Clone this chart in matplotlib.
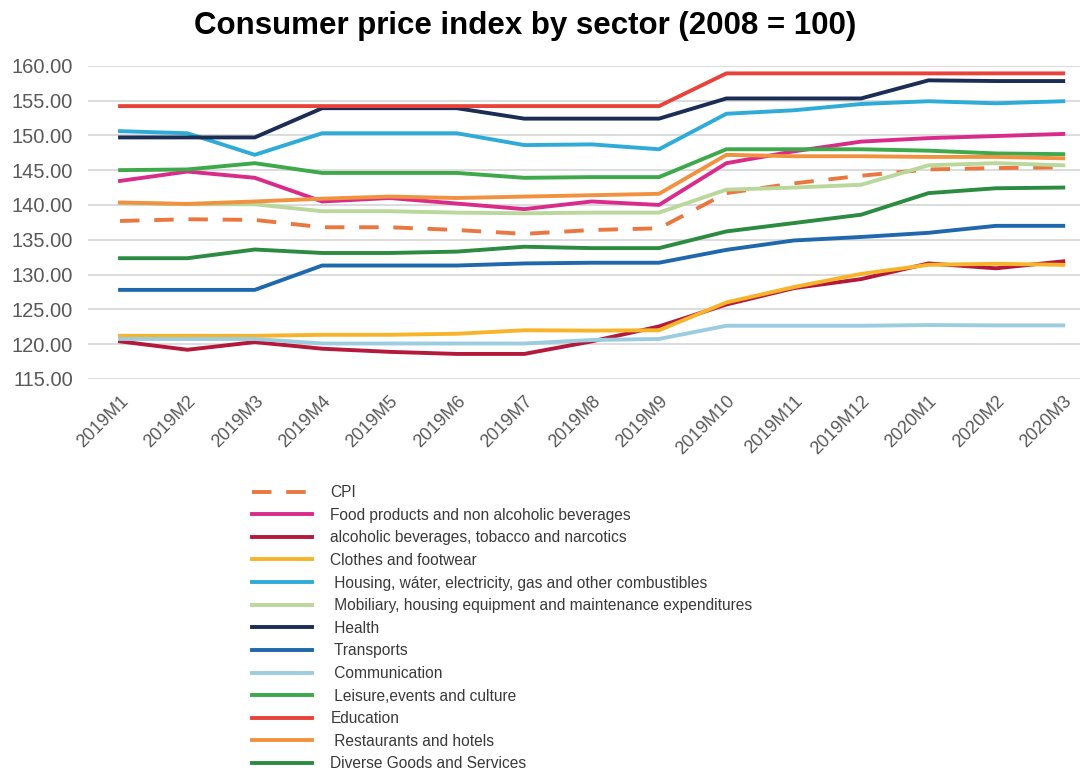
import numpy as np
import matplotlib.pyplot as plt

plt.rcParams["font.family"] = ["Liberation Sans", "DejaVu Sans"]

months = ["2019M1", "2019M2", "2019M3", "2019M4", "2019M5", "2019M6", "2019M7",
          "2019M8", "2019M9", "2019M10", "2019M11", "2019M12", "2020M1",
          "2020M2", "2020M3"]

cpi = [137.7, 137.95, 137.85, 136.8, 136.8, 136.4, 135.85, 136.4, 136.65,
       141.7, 143.1, 144.2, 145.1, 145.3, 145.4]
food = [143.45, 144.8, 143.9, 140.5, 141.0, 140.2, 139.4, 140.5, 140.0,
        146.0, 147.7, 149.1, 149.6, 149.9, 150.2]
alcohol = [120.4, 119.2, 120.3, 119.35, 118.9, 118.6, 118.6, 120.4, 122.55,
           125.7, 128.05, 129.35, 131.6, 130.9, 131.9]
clothes = [121.2, 121.2, 121.2, 121.35, 121.35, 121.5, 122.0, 121.95, 122.0,
           126.0, 128.2, 130.1, 131.4, 131.55, 131.4]
housing = [150.6, 150.3, 147.2, 150.3, 150.3, 150.3, 148.6, 148.7, 148.0,
           153.1, 153.6, 154.5, 154.9, 154.6, 154.9]
mobiliary = [140.3, 140.1, 140.1, 139.1, 139.1, 138.9, 138.8, 138.9, 138.9,
             142.2, 142.5, 142.9, 145.7, 146.0, 145.7]
health = [149.7, 149.7, 149.7, 153.9, 153.9, 153.9, 152.4, 152.4, 152.4,
          155.3, 155.3, 155.3, 157.9, 157.8, 157.8]
transports = [127.8, 127.8, 127.8, 131.3, 131.3, 131.3, 131.6, 131.7, 131.7,
              133.55, 134.9, 135.4, 136.0, 137.0, 137.0]
communication = [120.75, 120.75, 120.75, 120.1, 120.1, 120.1, 120.1, 120.6, 120.75,
                 122.65, 122.65, 122.65, 122.75, 122.7, 122.7]
leisure = [145.0, 145.1, 146.0, 144.6, 144.6, 144.6, 143.9, 144.0, 144.0,
           148.0, 148.0, 148.0, 147.8, 147.4, 147.3]
education = [154.2] * 9 + [158.9] * 6
restaurants = [140.35, 140.15, 140.5, 140.9, 141.2, 141.0, 141.2, 141.4, 141.6,
               147.2, 147.0, 147.0, 146.9, 146.9, 146.7]
diverse = [132.35, 132.35, 133.6, 133.1, 133.1, 133.3, 134.0, 133.8, 133.8,
           136.2, 137.4, 138.6, 141.7, 142.4, 142.5]

series = [
    ("CPI", cpi, "#E9773F"),
    ("Food products and non alcoholic beverages", food, "#D92C8A"),
    ("alcoholic beverages, tobacco and narcotics", alcohol, "#B4193C"),
    ("Clothes and footwear", clothes, "#F7B42A"),
    (" Housing, wáter, electricity, gas and other combustibles", housing, "#2EABD8"),
    (" Mobiliary, housing equipment and maintenance expenditures", mobiliary, "#BAD79C"),
    (" Health", health, "#1B2C55"),
    (" Transports", transports, "#2068AD"),
    (" Communication", communication, "#9CCDDF"),
    (" Leisure,events and culture", leisure, "#3DA94A"),
    ("Education", education, "#E8433B"),
    (" Restaurants and hotels", restaurants, "#F0923F"),
    ("Diverse Goods and Services", diverse, "#2B8B40"),
]

fig = plt.figure(figsize=(10.91, 7.76), dpi=100)
ax = fig.add_axes([0.081, 0.5116, 0.909, 0.4037])

x = np.arange(len(months))
for label, vals, col in series:
    if label == "CPI":
        ax.plot(x, vals, color=col, lw=2.8, dashes=(5, 3.8), label=label)
    else:
        ax.plot(x, vals, color=col, lw=2.8, label=label)

ax.set_xlim(-0.47, 14.25)
ax.set_ylim(115, 160)
ax.set_yticks(np.arange(115, 161, 5))
ax.yaxis.set_major_formatter(plt.FuncFormatter(lambda v, p: f"{v:.2f}"))
ax.set_xticks(x)
ax.set_xticklabels(months, rotation=45, ha="right", rotation_mode="anchor")
ax.tick_params(axis="y", length=0, labelsize=14.5, colors="#595959", pad=11)
ax.tick_params(axis="x", length=0, labelsize=13, colors="#595959", pad=10)
ax.grid(axis="y", color="#dcdcdc", lw=1.4)
ax.set_axisbelow(True)
for s in ax.spines.values():
    s.set_visible(False)

fig.suptitle("Consumer price index by sector (2008 = 100)", x=0.481, y=0.986,
             fontsize=22.5, fontweight="bold", va="top")

leg = fig.legend(loc="upper left", bbox_to_anchor=(0.225, 0.383), frameon=False,
                 fontsize=11.2, handlelength=3.9, handletextpad=1.15,
                 labelspacing=0.49, borderaxespad=0)
for t in leg.get_texts():
    t.set_color("#3a3a3a")

fig.savefig("out.png", dpi=100)
